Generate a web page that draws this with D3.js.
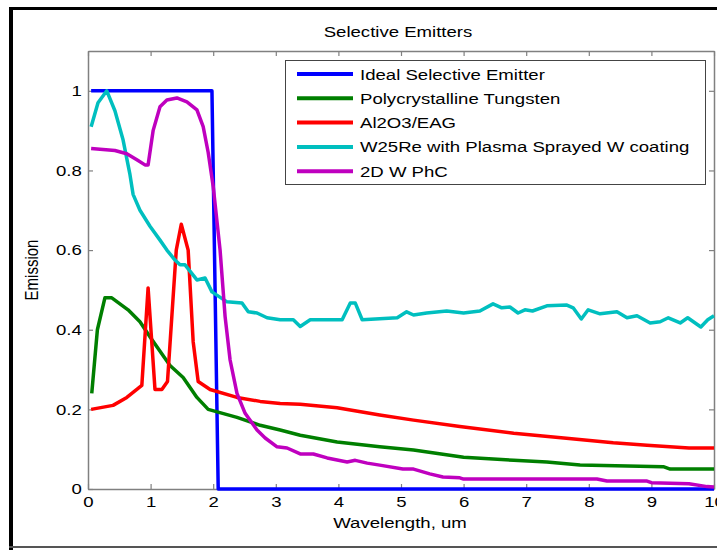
<!DOCTYPE html>
<html>
<head>
<meta charset="utf-8">
<script src="https://cdn.jsdelivr.net/npm/d3@7"></script>
<style>
  body { margin: 0; background: #fff; }
  text { font-family: "Liberation Sans", Arial, sans-serif; }
</style>
</head>
<body>
<div id="chart"></div>
<script>
// selective emitters chart

var seriesNames = ["Ideal Selective Emitter", "Polycrystalline Tungsten", "Al2O3/EAG",
                   "W25Re with Plasma Sprayed W coating", "2D W PhC"];
var seriesColors = ["#0000ff", "#007f00", "#ff0000", "#00bfbf", "#bf00bf"];

var xTicks = [0, 1, 2, 3, 4, 5, 6, 7, 8, 9, 10];
var yTicks = [0, 0.2, 0.4, 0.6, 0.8, 1];

// [wavelength um, emission]
var ideal = [[0.05,1],[1.98,1],[2.03,0.5],[2.08,0],[10,0]];

var tungsten = [[0.06,0.24],[0.15,0.40],[0.27,0.48],[0.38,0.48],[0.64,0.45],[0.83,0.42],
  [1.0,0.38],[1.31,0.31],[1.52,0.28],[1.74,0.23],[1.92,0.20],[2.38,0.18],[2.75,0.16],
  [3.07,0.148],[3.39,0.135],[3.98,0.118],[4.66,0.106],[5.2,0.098],[6.0,0.08],[6.8,0.072],
  [7.33,0.068],[7.86,0.06],[9.19,0.056],[9.3,0.05],[10,0.05]];

var alumina = [[0.05,0.2],[0.4,0.21],[0.62,0.23],[0.86,0.26],[0.96,0.505],[1.07,0.25],
  [1.18,0.25],[1.27,0.27],[1.41,0.6],[1.49,0.665],[1.6,0.6],[1.68,0.37],[1.76,0.27],
  [1.95,0.25],[2.38,0.23],[2.75,0.22],[3.07,0.215],[3.39,0.213],[3.98,0.204],[4.66,0.186],
  [5.2,0.173],[5.94,0.157],[6.8,0.14],[7.6,0.128],[8.39,0.116],[8.93,0.11],[9.6,0.103],[10,0.103]];

var w25re = [[0.05,0.91],[0.16,0.97],[0.3,1.0],[0.43,0.95],[0.56,0.877],[0.67,0.79],
  [0.72,0.74],[0.83,0.70],[0.99,0.66],[1.15,0.625],[1.26,0.60],[1.39,0.575],[1.47,0.563],
  [1.55,0.563],[1.74,0.525],[1.87,0.53],[1.98,0.495],[2.22,0.47],[2.46,0.467],[2.56,0.445],
  [2.7,0.442],[2.86,0.43],[3.07,0.425],[3.28,0.425],[3.39,0.408],[3.55,0.425],[4.06,0.425],
  [4.19,0.467],[4.27,0.467],[4.38,0.425],[4.94,0.43],[5.09,0.445],[5.2,0.437],[5.41,0.442],
  [5.73,0.447],[6.0,0.442],[6.26,0.447],[6.47,0.465],[6.61,0.455],[6.74,0.457],[6.87,0.442],
  [6.98,0.45],[7.1,0.447],[7.33,0.46],[7.65,0.462],[7.75,0.455],[7.88,0.427],[7.99,0.45],
  [8.18,0.44],[8.45,0.445],[8.61,0.43],[8.77,0.435],[8.98,0.417],[9.14,0.42],[9.27,0.43],
  [9.46,0.417],[9.58,0.43],[9.79,0.407],[9.9,0.425],[10,0.435]];

var phc = [[0.05,0.855],[0.43,0.85],[0.62,0.842],[0.78,0.827],[0.91,0.814],[0.96,0.814],
  [1.04,0.90],[1.15,0.96],[1.26,0.977],[1.42,0.982],[1.58,0.972],[1.74,0.952],[1.84,0.91],
  [1.92,0.845],[2.0,0.76],[2.11,0.60],[2.19,0.433],[2.27,0.324],[2.38,0.24],[2.51,0.19],
  [2.7,0.148],[2.83,0.128],[3.02,0.106],[3.18,0.103],[3.39,0.088],[3.6,0.088],[3.82,0.078],
  [4.14,0.068],[4.27,0.072],[4.46,0.065],[4.66,0.06],[5.03,0.05],[5.2,0.05],[5.46,0.038],
  [5.67,0.03],[5.94,0.028],[6.0,0.025],[8.13,0.025],[8.29,0.02],[8.93,0.02],[9.0,0.016],
  [9.6,0.013],[9.89,0.006],[10,0.005]];

var allSeries = [ideal, tungsten, alumina, w25re, phc];

(function(){

var svgWidth = 717, svgHeight = 550;
var plotLeft = 88, plotTop = 51, plotRight = 714, plotBottom = 489;
var sx = 1.24; // the picture is stretched sideways

var svg = d3.select("#chart").append("svg")
    .attr("width", svgWidth)
    .attr("height", svgHeight);

// outer frame
svg.append("line").attr("x1", 11).attr("y1", 8).attr("x2", 11).attr("y2", 550)
    .attr("stroke", "#000").attr("stroke-width", 4);
svg.append("line").attr("x1", 9).attr("y1", 8.5).attr("x2", 717).attr("y2", 8.5)
    .attr("stroke", "#000").attr("stroke-width", 3);
svg.append("line").attr("x1", 9).attr("y1", 547).attr("x2", 717).attr("y2", 547)
    .attr("stroke", "#555").attr("stroke-width", 2);

var xScale = d3.scaleLinear().domain([0, 10]).range([plotLeft, plotRight]);
var yScale = d3.scaleLinear().domain([0, 1.1]).range([plotBottom, plotTop]);

// axes, ticks inward like matlab
var gx = svg.append("g").attr("transform", "translate(0," + plotBottom + ")")
    .call(d3.axisBottom(xScale).tickValues(xTicks).tickSizeInner(-5).tickSizeOuter(0).tickPadding(5));
var gy = svg.append("g").attr("transform", "translate(" + plotLeft + ",0)")
    .call(d3.axisLeft(yScale).tickValues(yTicks).tickFormat(d3.format("")).tickSizeInner(-5).tickSizeOuter(0).tickPadding(5));
var gxt = svg.append("g").attr("transform", "translate(0," + plotTop + ")")
    .call(d3.axisTop(xScale).tickValues(xTicks).tickSizeInner(-5).tickSizeOuter(0).tickFormat(""));
var gyr = svg.append("g").attr("transform", "translate(" + plotRight + ",0)")
    .call(d3.axisRight(yScale).tickValues(yTicks).tickSizeInner(-5).tickSizeOuter(0).tickFormat(""));

[gx, gy, gxt, gyr].forEach(function(g){
    g.select(".domain").attr("stroke", "#808080").attr("stroke-width", 1.5);
    g.selectAll(".tick line").attr("stroke", "#808080").attr("stroke-width", 1.2);
    g.selectAll(".tick text").attr("fill", "#000").attr("font-size", 15)
        .attr("font-family", "Liberation Sans, Arial, sans-serif")
        .attr("transform", "scale(" + sx + ",1)");
});
gx.selectAll(".tick text").attr("dy", "0.85em");

// curves
var line = d3.line()
    .x(function(d){ return xScale(d[0]); })
    .y(function(d){ return yScale(d[1]); });

for(var i = 0; i < allSeries.length; i++){
    svg.append("path")
        .datum(allSeries[i])
        .attr("d", line)
        .attr("fill", "none")
        .attr("stroke", seriesColors[i])
        .attr("stroke-width", 3.5)
        .attr("stroke-linejoin", "round");
}

var stretched = function(x, y, str, anchor, size, rot){
    var g = svg.append("g")
        .attr("transform", "translate(" + x + "," + y + ") scale(" + sx + ",1)" + (rot ? " rotate(" + rot + ")" : ""));
    g.append("text")
        .attr("text-anchor", anchor)
        .attr("font-size", size)
        .attr("fill", "#000")
        .text(str);
};

stretched(398, 37, "Selective Emitters", "middle", 15);
stretched(400, 528, "Wavelength, um", "middle", 15);
stretched(38, 270, "Emission", "middle", 15, -90);

// legend
var legend = svg.append("g");
legend.append("rect")
    .attr("x", 285.5).attr("y", 60.5).attr("width", 420).attr("height", 124)
    .attr("fill", "#fff").attr("stroke", "#444").attr("stroke-width", 1);

for(var j = 0; j < seriesNames.length; j++){
    var ly = 74 + j * 24.3;
    legend.append("line")
        .attr("x1", 297).attr("x2", 353).attr("y1", ly).attr("y2", ly)
        .attr("stroke", seriesColors[j]).attr("stroke-width", 4);
    stretched(360, ly + 5.5, seriesNames[j], "start", 15);
}

})();
</script>
</body>
</html>
